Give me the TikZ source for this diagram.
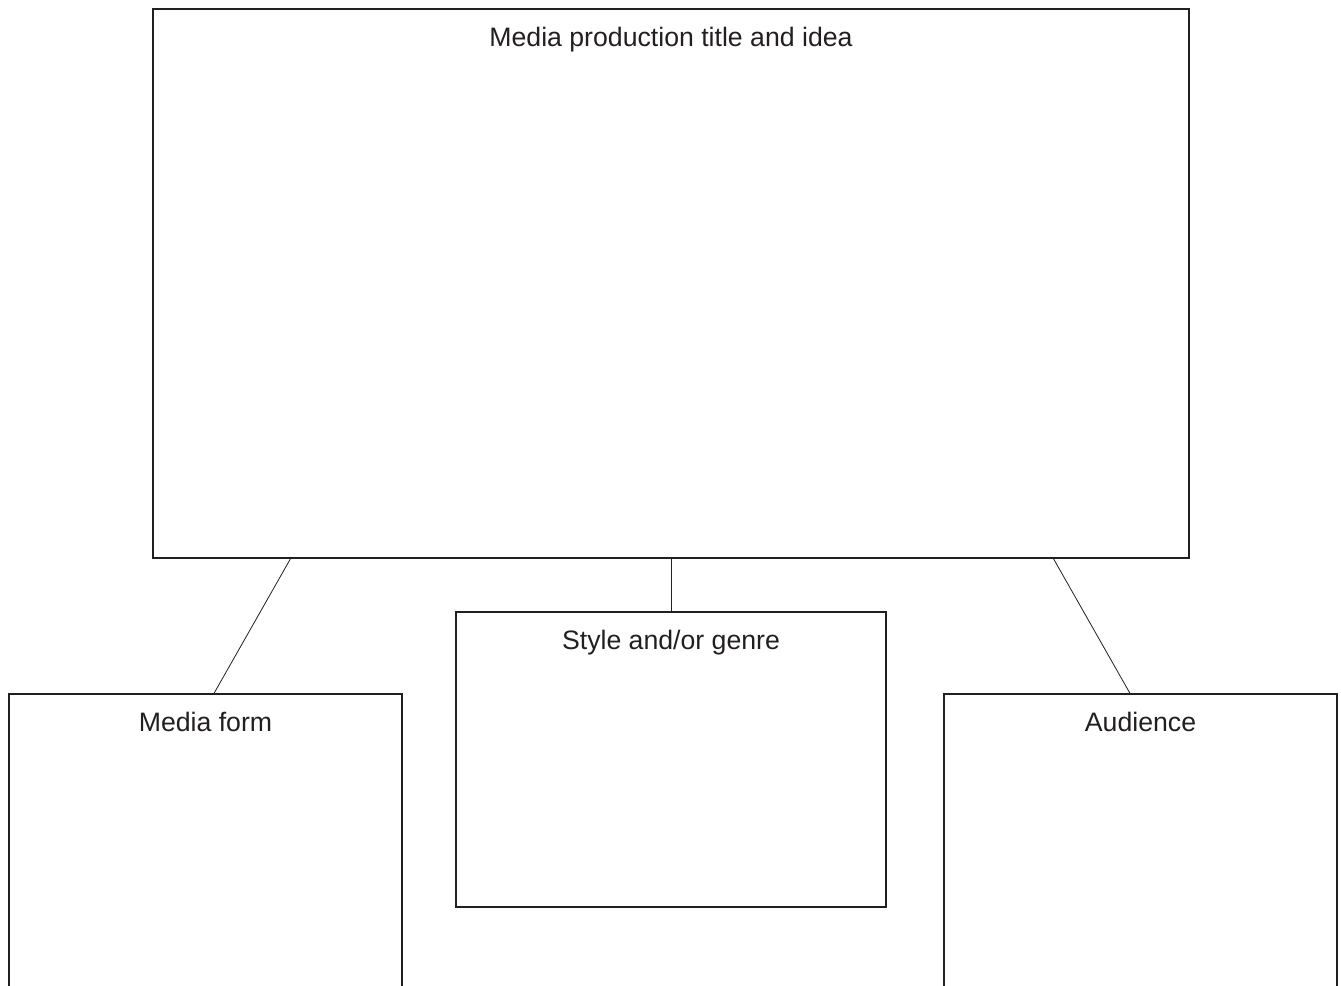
\documentclass[tikz,border=0pt]{standalone}
\usepackage{fontspec}
\setmainfont{Liberation Sans}
\usetikzlibrary{calc}
\definecolor{ink}{HTML}{231F20}
\tikzset{
  box/.style={draw=ink, line width=1pt, rectangle, inner sep=0pt},
  boxlabel/.style={anchor=base, yshift=-28.5pt, text=ink, font=\fontsize{20}{24}\selectfont, inner sep=0pt},
  link/.style={draw=ink, line width=0.6pt}
}
\begin{document}
\begin{tikzpicture}[x=0.75pt, y=-0.75pt]
\useasboundingbox (0,0) rectangle (1341,985);
\clip (0,0) rectangle (1341,985);
\node[box, minimum width=777pt, minimum height=411.75pt,
      label={[boxlabel]north:Media production title and idea}] (main) at (671,283.5) {};
\node[box, minimum width=322.5pt, minimum height=221.25pt,
      label={[boxlabel]north:Style and/or genre}] (style) at (671,759.5) {};
\node[box, minimum width=294.75pt, minimum height=300pt,
      label={[boxlabel]north:Media form}] (form) at (205.5,894) {};
\node[box, minimum width=294.75pt, minimum height=300pt,
      label={[boxlabel]north:Audience}] (aud) at (1140.5,894) {};
\draw[link] ($(main.south west)!0.1332!(main.south east)$) -- ($(form.north west)!0.5216!(form.north east)$);
\draw[link] (main.south) -- (style.north);
\draw[link] ($(main.south west)!0.8687!(main.south east)$) -- ($(aud.north west)!0.4733!(aud.north east)$);
\end{tikzpicture}
\end{document}
